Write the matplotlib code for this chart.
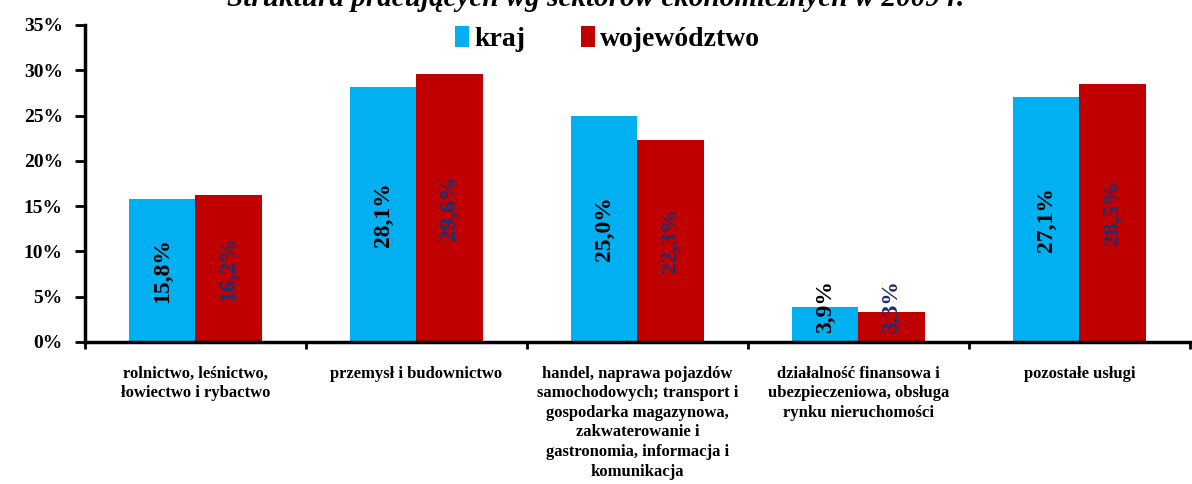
import numpy as np
import matplotlib
matplotlib.use("Agg")
import matplotlib.pyplot as plt
from matplotlib.ticker import FuncFormatter

# dane: struktura pracujących wg sektorów (%)
categories = [
    "rolnictwo, leśnictwo,\nłowiectwo i rybactwo",
    "przemysł i budownictwo",
    "handel, naprawa pojazdów\nsamochodowych; transport i\ngospodarka magazynowa,\n"
    "zakwaterowanie i\ngastronomia, informacja i\nkomunikacja",
    "działalność finansowa i\nubezpieczeniowa, obsługa\nrynku nieruchomości",
    "pozostałe usługi",
]
kraj = [15.8, 28.1, 25.0, 3.9, 27.1]
wojewodztwo = [16.2, 29.6, 22.3, 3.3, 28.5]
series_names = ["kraj", "województwo"]
title = "Struktura pracujących wg sektorów ekonomicznych w 2009 r."

plt.rcParams['font.family'] = ['Liberation Serif', 'DejaVu Serif']

fig = plt.figure(figsize=(11.92, 4.84), dpi=100)
ax = fig.add_axes([0.0713, 0.2934, 0.927, 0.655])

x = np.arange(len(categories))
w = 0.3
b1 = ax.bar(x - w / 2, kraj, w, color='#00B0F0', label=series_names[0])
b2 = ax.bar(x + w / 2, wojewodztwo, w, color='#C00000', label=series_names[1])

def fmt(v):
    return ("%.1f%%" % v).replace(".", ",")

for bars, vals, col in ((b1, kraj, 'black'), (b2, wojewodztwo, '#1F3070')):
    for r, v in zip(bars, vals):
        ax.text(r.get_x() + r.get_width() / 2, max(v / 2, 3.9), fmt(v),
                rotation=90, ha='center', va='center', color=col,
                fontsize=17, fontweight='bold')

ax.set_xlim(-0.5, len(categories) - 0.5)
ax.set_ylim(0, 35)
ax.set_yticks(np.arange(0, 36, 5))
ax.yaxis.set_major_formatter(FuncFormatter(lambda v, p: "%d%%" % v))
ax.tick_params(axis='y', labelsize=14, width=2, length=7, pad=9)
for t in ax.get_yticklabels():
    t.set_fontweight('bold')

ax.set_xticks(x)
ax.set_xticklabels(categories, fontsize=12, fontweight='bold',
                   linespacing=1.3, va='top')
ax.tick_params(axis='x', length=0, pad=17)
ax.set_xticks(np.arange(-0.5, len(categories)), minor=True)
ax.tick_params(axis='x', which='minor', length=5, width=2)

for s in ('top', 'right'):
    ax.spines[s].set_visible(False)
for s in ('left', 'bottom'):
    ax.spines[s].set_linewidth(2.5)

ax.legend(loc='upper center', bbox_to_anchor=(0.473, 1.075), ncol=2, frameon=False,
          prop={'size': 20, 'weight': 'bold'}, handlelength=0.5, handleheight=0.8,
          handletextpad=0.2, columnspacing=2.0)

fig.text(0.5, 0.988, title, ha='center', va='baseline', fontsize=21,
         fontweight='bold', style='italic')

fig.savefig("out.png", dpi=100, facecolor='white')
